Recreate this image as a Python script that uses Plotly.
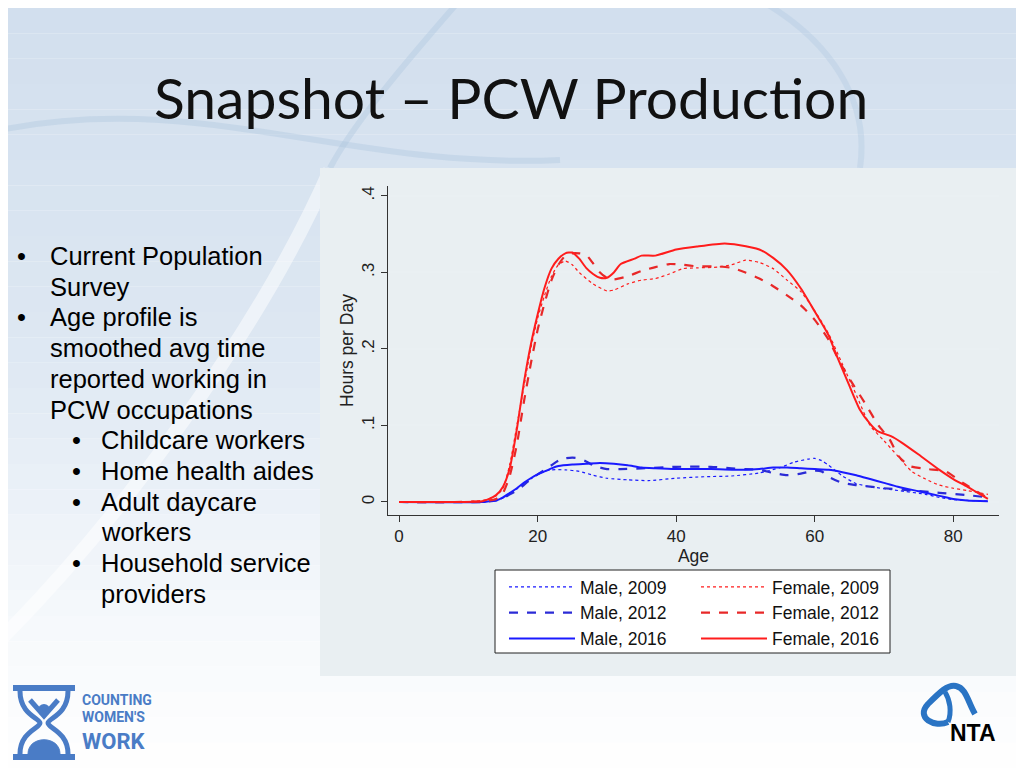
import plotly.graph_objects as go

# ---------------- data ----------------
age_f16 = [0, 8, 12, 13, 14, 15, 16, 17, 18, 19, 20, 21, 22, 23, 24, 25, 26, 27, 28, 29, 30, 31, 32, 34, 35, 37, 40, 43, 47, 49, 52, 54, 56, 58, 60, 62, 63, 65, 66.5, 68, 69, 71, 72.5, 75, 78, 80, 82, 85]
f16 = [0, 0, 0.001, 0.004, 0.009, 0.02, 0.045, 0.095, 0.155, 0.205, 0.245, 0.28, 0.305, 0.318, 0.325, 0.326, 0.318, 0.306, 0.298, 0.293, 0.293, 0.300, 0.311, 0.318, 0.322, 0.322, 0.330, 0.334, 0.338, 0.336, 0.330, 0.319, 0.303, 0.279, 0.249, 0.218, 0.195, 0.152, 0.121, 0.102, 0.093, 0.086, 0.078, 0.062, 0.042, 0.030, 0.020, 0.004]

age_f12 = [0, 8, 12, 14, 15, 16, 17, 18, 19, 20, 21, 22, 23, 24, 25, 26, 27, 28, 29, 30, 31, 33, 35, 37, 39, 41, 43, 46, 48, 50, 52, 54, 56, 58, 60, 62, 63.6, 65.3, 67.2, 69.2, 70.8, 72.1, 73.7, 76.3, 78.9, 81.4, 85]
f12 = [0, 0, 0.001, 0.004, 0.012, 0.035, 0.075, 0.13, 0.18, 0.225, 0.26, 0.29, 0.31, 0.322, 0.325, 0.325, 0.323, 0.312, 0.300, 0.293, 0.291, 0.295, 0.302, 0.307, 0.311, 0.310, 0.308, 0.308, 0.306, 0.300, 0.292, 0.282, 0.27, 0.257, 0.238, 0.212, 0.183, 0.157, 0.130, 0.100, 0.082, 0.060, 0.047, 0.043, 0.040, 0.025, 0.005]

age_f09 = [0, 8, 12, 14, 15, 16, 17, 18, 19, 20, 21, 22, 23, 24, 25, 26, 28, 30, 31, 33, 35, 37, 39, 41, 43, 46, 48, 50, 52, 54, 56, 58, 60, 62, 64, 66, 68, 70, 72, 74, 76, 78, 80, 82, 85]
f09 = [0, 0, 0.002, 0.008, 0.018, 0.05, 0.10, 0.15, 0.20, 0.24, 0.27, 0.295, 0.31, 0.315, 0.31, 0.30, 0.285, 0.276, 0.277, 0.285, 0.29, 0.292, 0.298, 0.305, 0.306, 0.307, 0.31, 0.316, 0.313, 0.305, 0.29, 0.275, 0.25, 0.22, 0.18, 0.14, 0.10, 0.08, 0.06, 0.04, 0.03, 0.022, 0.018, 0.015, 0.01]

age_m16 = [0, 12, 13, 14, 15, 16, 17, 18, 19, 20, 21, 22, 23, 25, 27, 29, 31, 33, 35, 37, 40, 45, 50, 52, 54, 56, 58, 60, 62, 64, 66, 68, 70, 72, 75, 78, 80, 82, 85]
m16 = [0, 0, 0.001, 0.002, 0.006, 0.012, 0.018, 0.025, 0.031, 0.036, 0.040, 0.044, 0.047, 0.049, 0.050, 0.051, 0.050, 0.048, 0.045, 0.044, 0.043, 0.043, 0.042, 0.043, 0.045, 0.045, 0.044, 0.043, 0.042, 0.039, 0.035, 0.030, 0.025, 0.020, 0.014, 0.008, 0.004, 0.002, 0.001]

age_m12 = [0, 12, 14, 15, 16, 17, 18, 19, 20, 21, 22, 23, 24, 25, 26, 27, 28, 29, 30, 32, 35, 40, 45, 48, 50, 52, 54, 56, 58, 60, 61, 62, 64, 66, 68, 70, 74, 78, 82, 85]
m12 = [0, 0, 0.002, 0.005, 0.010, 0.015, 0.022, 0.030, 0.036, 0.042, 0.048, 0.054, 0.057, 0.058, 0.057, 0.053, 0.048, 0.045, 0.043, 0.043, 0.044, 0.046, 0.046, 0.044, 0.043, 0.042, 0.038, 0.035, 0.037, 0.041, 0.040, 0.033, 0.025, 0.022, 0.020, 0.018, 0.015, 0.012, 0.009, 0.006]

age_m09 = [0, 12, 14, 15, 16, 17, 18, 19, 20, 21, 22, 24, 26, 28, 30, 33, 36, 40, 44, 48, 52, 55, 57, 59, 60, 61, 62, 64, 66, 68, 72, 76, 78, 80, 82, 85]
m09 = [0, 0, 0.002, 0.005, 0.010, 0.017, 0.024, 0.030, 0.036, 0.040, 0.042, 0.042, 0.040, 0.035, 0.031, 0.029, 0.028, 0.031, 0.033, 0.034, 0.038, 0.045, 0.052, 0.056, 0.057, 0.054, 0.048, 0.034, 0.024, 0.020, 0.015, 0.010, 0.006, 0.003, 0.002, 0.001]

x_ticks = [0, 20, 40, 60, 80]
y_ticks = [0, 0.1, 0.2, 0.3, 0.4]
y_tick_labels = ["0", ".1", ".2", ".3", ".4"]

title_text = "Snapshot \u2013 PCW Production"
bullets = [
    (0, "Current Population"), (None, "Survey"),
    (0, "Age profile is"), (None, "smoothed avg time"), (None, "reported working in"), (None, "PCW occupations"),
    (1, "Childcare workers"), (1, "Home health aides"), (1, "Adult daycare"), (None, "workers"),
    (1, "Household service"), (None, "providers"),
]

# ---------------- figure ----------------
# the page body adds an 8px margin; work in page pixels and convert
OFF = 8
W, H = 1024 - OFF, 768 - OFF
def px(x):
    return (x - OFF) / W
def py(y):
    return 1 - (y - OFF) / H

RED = "#ff1c1c"
BLUE = "#1a1aff"
BLUE_D = "#2b2bd6"
RED_D = "#e82828"

fig = go.Figure()
series = [
    ("Male, 2009", age_m09, m09, BLUE, "dot", 1.2, "legend"),
    ("Male, 2012", age_m12, m12, BLUE_D, "dash", 2.2, "legend"),
    ("Male, 2016", age_m16, m16, BLUE, "solid", 2.0, "legend"),
    ("Female, 2009", age_f09, f09, RED, "dot", 1.2, "legend2"),
    ("Female, 2012", age_f12, f12, RED_D, "dash", 2.2, "legend2"),
    ("Female, 2016", age_f16, f16, RED, "solid", 2.0, "legend2"),
]
for name, xs, ys, col, dash, w, lg in series:
    fig.add_trace(go.Scatter(x=xs, y=ys, name=name, mode="lines", legend=lg,
                             line=dict(color=col, dash=dash, width=w, shape="spline", smoothing=0.6)))

shapes = []
# slide background gradient bands
stops = [(0.0, (210, 223, 238)), (0.45, (222, 232, 243)), (0.8, (246, 249, 252)), (1.0, (255, 255, 255))]
def grad(t):
    for (t0, c0), (t1, c1) in zip(stops[:-1], stops[1:]):
        if t0 <= t <= t1:
            u = (t - t0) / (t1 - t0)
            return tuple(int(c0[k] + (c1[k] - c0[k]) * u) for k in range(3))
    return stops[-1][1]
n = 30
for i in range(n):
    c = grad((i + 0.5) / n)
    shapes.append(dict(type="rect", xref="paper", yref="paper", layer="below",
                       x0=0, x1=1, y0=1 - (i + 1) / n, y1=1 - i / n,
                       fillcolor="rgb(%d,%d,%d)" % c, line=dict(width=0)))
# decorative faint curves
shapes.append(dict(type="path", xref="paper", yref="paper", layer="below",
                   path="M %f,%f C %f,%f %f,%f %f,%f" % (px(0), py(640), px(120), py(520), px(260), py(330), px(330), py(170)),
                   line=dict(color="rgba(255,255,255,0.5)", width=14)))
shapes.append(dict(type="path", xref="paper", yref="paper", layer="below",
                   path="M %f,%f C %f,%f %f,%f %f,%f" % (px(0), py(130), px(200), py(90), px(350), py(170), px(560), py(160)),
                   line=dict(color="rgba(170,195,222,0.35)", width=6)))
shapes.append(dict(type="path", xref="paper", yref="paper", layer="below",
                   path="M %f,%f C %f,%f %f,%f %f,%f" % (px(460), py(0), px(390), py(80), px(350), py(130), px(330), py(168)),
                   line=dict(color="rgba(170,195,222,0.35)", width=6)))
shapes.append(dict(type="path", xref="paper", yref="paper", layer="below",
                   path="M %f,%f C %f,%f %f,%f %f,%f" % (px(760), py(0), px(830), py(40), px(870), py(100), px(860), py(168)),
                   line=dict(color="rgba(170,195,222,0.3)", width=6)))
# chart panel
shapes.append(dict(type="rect", xref="paper", yref="paper", layer="below",
                   x0=px(320), x1=px(1016), y0=py(676), y1=py(168),
                   fillcolor="#e9eff2", line=dict(width=0)))
# legend box
shapes.append(dict(type="rect", xref="paper", yref="paper", layer="above",
                   x0=px(495), x1=px(890), y0=py(653), y1=py(570),
                   fillcolor="rgba(0,0,0,0)", line=dict(color="#222", width=1)))
shapes.append(dict(type="rect", xref="paper", yref="paper", layer="below",
                   x0=px(495), x1=px(890), y0=py(653), y1=py(570),
                   fillcolor="#ffffff", line=dict(width=0)))
# CWW logo (hourglass)
LB = "#4a7cc6"
shapes.append(dict(type="rect", xref="paper", yref="paper", x0=px(13), x1=px(75), y0=py(691), y1=py(685),
                   fillcolor=LB, line=dict(width=0)))
shapes.append(dict(type="rect", xref="paper", yref="paper", x0=px(13), x1=px(75), y0=py(760), y1=py(754),
                   fillcolor=LB, line=dict(width=0)))
for a, b in [(20, 40), (68, 48)]:
    shapes.append(dict(type="path", xref="paper", yref="paper",
                       path="M %f,%f C %f,%f %f,%f %f,%f C %f,%f %f,%f %f,%f" % (
                           px(a), py(691), px(a), py(715), px(b), py(718), px(b), py(723),
                           px(b), py(728), px(a), py(732), px(a), py(754)),
                       line=dict(color=LB, width=5)))
shapes.append(dict(type="path", xref="paper", yref="paper",
                   path="M %f,%f C %f,%f %f,%f %f,%f Z" % (
                       px(28), py(754), px(28), py(735), px(60), py(735), px(60), py(754)),
                   fillcolor=LB, line=dict(color=LB, width=1)))
shapes.append(dict(type="circle", xref="paper", yref="paper", x0=px(38), x1=px(50), y0=py(716), y1=py(704),
                   fillcolor=LB, line=dict(width=0)))
shapes.append(dict(type="path", xref="paper", yref="paper",
                   path="M %f,%f L %f,%f L %f,%f" % (px(30), py(700), px(44), py(716), px(58), py(700)),
                   line=dict(color=LB, width=5)))
# NTA logo loop
NB = "#2a74c4"
shapes.append(dict(type="path", xref="paper", yref="paper",
                   path="M %f,%f C %f,%f %f,%f %f,%f C %f,%f %f,%f %f,%f C %f,%f %f,%f %f,%f" % (
                       px(948), py(722), px(935), py(728), px(915), py(718), px(928), py(704),
                       px(940), py(692), px(948), py(684), px(956), py(686),
                       px(966), py(688), px(968), py(702), px(975), py(714)),
                   line=dict(color=NB, width=6)))
shapes.append(dict(type="path", xref="paper", yref="paper",
                   path="M %f,%f C %f,%f %f,%f %f,%f" % (
                       px(948), py(722), px(952), py(712), px(950), py(700), px(945), py(692)),
                   line=dict(color=NB, width=5)))

annotations = []
annotations.append(dict(text=title_text, x=px(511), y=py(97), xref="paper", yref="paper",
                        showarrow=False, xanchor="center", yanchor="middle",
                        font=dict(family="Lato", size=57, color="#111111")))
FS = 25.5
y0 = 256
for i, (lvl, txt) in enumerate(bullets):
    yy = y0 + i * 30.7
    indent = 50 if i < 6 else 101
    if lvl == 0:
        annotations.append(dict(text="\u2022", x=px(15), y=py(yy), xref="paper", yref="paper", showarrow=False,
                                xanchor="left", yanchor="middle", font=dict(family="Liberation Sans", size=FS, color="#000")))
    elif lvl == 1:
        annotations.append(dict(text="\u2022", x=px(70), y=py(yy), xref="paper", yref="paper", showarrow=False,
                                xanchor="left", yanchor="middle", font=dict(family="Liberation Sans", size=FS, color="#000")))
    annotations.append(dict(text=txt, x=px(indent - 2), y=py(yy), xref="paper", yref="paper", showarrow=False,
                            xanchor="left", yanchor="middle", font=dict(family="Liberation Sans", size=FS, color="#000")))
for txt, yy, sz in [("COUNTING", 700, 14), ("WOMEN'S", 717, 14), ("WORK", 741, 22)]:
    annotations.append(dict(text="<b>%s</b>" % txt, x=px(80), y=py(yy), xref="paper", yref="paper", showarrow=False,
                            xanchor="left", yanchor="middle", font=dict(family="Roboto", size=sz, color=LB)))
annotations.append(dict(text="<b>NTA</b>", x=px(973), y=py(733), xref="paper", yref="paper", showarrow=False,
                        xanchor="center", yanchor="middle", font=dict(family="Liberation Sans", size=23, color="#000")))

leg_common = dict(orientation="v", xanchor="left", yanchor="top", bgcolor="rgba(0,0,0,0)",
                  borderwidth=0, font=dict(size=17.5, color="#111", family="Liberation Sans"),
                  itemwidth=66, tracegroupgap=0)

fig.update_layout(
    width=W, height=H,
    margin=dict(l=0, r=0, t=0, b=0, autoexpand=False),
    paper_bgcolor="#ffffff",
    plot_bgcolor="#ffffff",
    shapes=shapes,
    annotations=annotations,
    font=dict(family="Liberation Sans", color="#222"),
    showlegend=True,
    legend=dict(x=px(504), y=py(569), **leg_common),
    legend2=dict(x=px(696), y=py(569), **leg_common),
    xaxis=dict(domain=[px(388), px(999)], range=[-1.6, 86.6], tickvals=x_ticks,
               showgrid=False, zeroline=False, showline=True, linecolor="#333", linewidth=1,
               ticks="outside", ticklen=6, tickcolor="#333", tickfont=dict(size=17, color="#222"),
               title=dict(text="Age", font=dict(size=17.5, color="#222"), standoff=0)),
    yaxis=dict(domain=[py(515), py(186)], range=[-0.017, 0.413], tickvals=y_ticks, ticktext=y_tick_labels,
               tickangle=-90, showgrid=True, gridcolor="#eaf0f3", gridwidth=2, zeroline=False,
               showline=True, linecolor="#333", linewidth=1,
               ticks="outside", ticklen=6, tickcolor="#333", tickfont=dict(size=17, color="#222"),
               title=dict(text="Hours per Day", font=dict(size=17.5, color="#222"), standoff=1)),
)

fig.write_html("out.html")
